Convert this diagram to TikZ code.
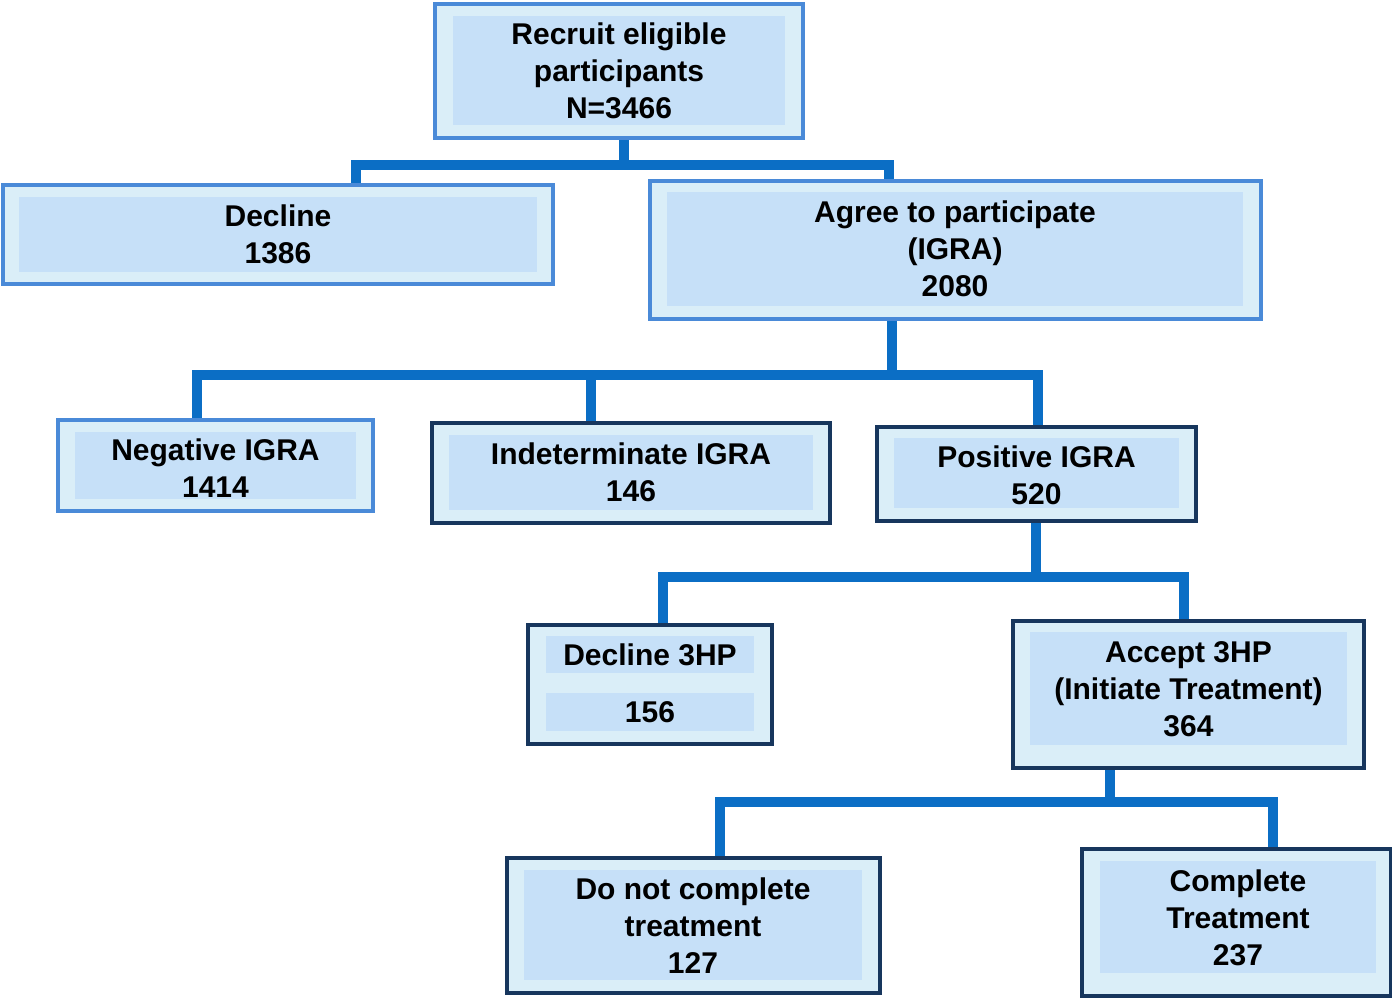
\documentclass[tikz,border=0pt]{standalone}
\usepackage{fontspec}
\setmainfont{Liberation Sans}
\usetikzlibrary{calc}
\pgfdeclarelayer{bg}
\pgfsetlayers{bg,main}
\definecolor{framefill}{HTML}{DAEEF8}
\definecolor{panelfill}{HTML}{C6E0F8}
\definecolor{edgeblue}{HTML}{4A8AD8}
\definecolor{edgenavy}{HTML}{17365D}
\definecolor{linkblue}{HTML}{0B6EC5}
\tikzset{
  frame/.style={rectangle, fill=framefill, line width=4pt, inner sep=0pt, outer sep=0pt},
  frameB/.style={frame, draw=edgeblue},
  frameN/.style={frame, draw=edgenavy},
  panel/.style={rectangle, fill=panelfill, inner sep=0pt, outer sep=0pt},
  label/.style={align=center, font=\fontsize{30}{37}\selectfont\bfseries, inner sep=0pt},
  conn/.style={draw=linkblue, line width=10pt, line join=miter}
}
\begin{document}
\begin{tikzpicture}[x=1pt, y=-1pt]
\useasboundingbox (0,0) rectangle (1392,998);

% recruitment
\node[frameB, minimum width=368, minimum height=134] (rec) at (619,71) {};
\node[panel, minimum width=332, minimum height=109] (recP) at (619,70.5) {};
\node[label] (recT) at (619,71) {Recruit eligible\\participants\\N=3466};

% decline / agree
\node[frameB, minimum width=550, minimum height=99] (dec) at (278,234.5) {};
\node[panel, minimum width=518, minimum height=75] (decP) at (278,234.5) {};
\node[label] (decT) at (278,234) {Decline\\1386};

\node[frameB, minimum width=611, minimum height=138] (agr) at (955.5,250) {};
\node[panel, minimum width=576, minimum height=114] (agrP) at (955,249) {};
\node[label] (agrT) at (955,248.5) {Agree to participate\\(IGRA)\\2080};

% IGRA results
\node[frameB, minimum width=315, minimum height=91] (neg) at (215.5,465.5) {};
\node[panel, minimum width=281, minimum height=67] (negP) at (215.5,465.5) {};
\node[label] (negT) at (215.5,468) {Negative IGRA\\1414};

\node[frameN, minimum width=398, minimum height=100] (ind) at (631,473) {};
\node[panel, minimum width=364, minimum height=75] (indP) at (631,472.5) {};
\node[label] (indT) at (631,472) {Indeterminate IGRA\\146};

\node[frameN, minimum width=319, minimum height=94] (pos) at (1036.5,474) {};
\node[panel, minimum width=285, minimum height=70] (posP) at (1036.5,473) {};
\node[label] (posT) at (1036.5,475) {Positive IGRA\\520};

% 3HP decision
\node[frameN, minimum width=244, minimum height=119] (d3) at (650,684.5) {};
\node[panel, minimum width=208, minimum height=37] (d3P1) at (650,654.5) {};
\node[panel, minimum width=208, minimum height=38] (d3P2) at (650,712) {};
\node[label] (d3T1) at (650,654.5) {Decline 3HP};
\node[label] (d3T2) at (650,712) {156};

\node[frameN, minimum width=351, minimum height=147] (acc) at (1188.5,694.5) {};
\node[panel, minimum width=317, minimum height=113] (accP) at (1188.5,688.5) {};
\node[label] (accT) at (1188.5,689) {Accept 3HP\\(Initiate Treatment)\\364};

% treatment outcome
\node[frameN, minimum width=373, minimum height=135] (dnc) at (693.5,925.5) {};
\node[panel, minimum width=338, minimum height=110] (dncP) at (693,925) {};
\node[label] (dncT) at (693,926) {Do not complete\\treatment\\127};

\node[frameN, minimum width=309, minimum height=147] (cmp) at (1236.5,922.5) {};
\node[panel, minimum width=276, minimum height=112] (cmpP) at (1238,917) {};
\node[label] (cmpT) at (1238,918) {Complete\\Treatment\\237};

% connector buses
\coordinate (bus1) at (624,165);
\coordinate (bus2) at (892,375);
\coordinate (bus3) at (1036,577);
\coordinate (bus4) at (1110,802);

\begin{pgfonlayer}{bg}
\draw[conn] ([xshift=5pt]rec.south) -- (bus1);
\draw[conn] ([xshift=78pt]dec.north) |- (bus1) -| ([xshift=-66.5pt]agr.north);

\draw[conn] ([xshift=-63.5pt]agr.south) -- (bus2);
\draw[conn] ([xshift=-18.5pt]neg.north) |- (bus2) -| ([xshift=1.5pt]pos.north);
\draw[conn] ([xshift=-40pt]ind.north) |- (bus2);

\draw[conn] ([xshift=-0.5pt]pos.south) -- (bus3);
\draw[conn] ([xshift=13pt]d3.north) |- (bus3) -| ([xshift=-4.5pt]acc.north);

\draw[conn] ([xshift=-78.5pt]acc.south) -- (bus4);
\draw[conn] ([xshift=26.5pt]dnc.north) |- (bus4) -| ([xshift=36.5pt]cmp.north);
\end{pgfonlayer}
\end{tikzpicture}
\end{document}
